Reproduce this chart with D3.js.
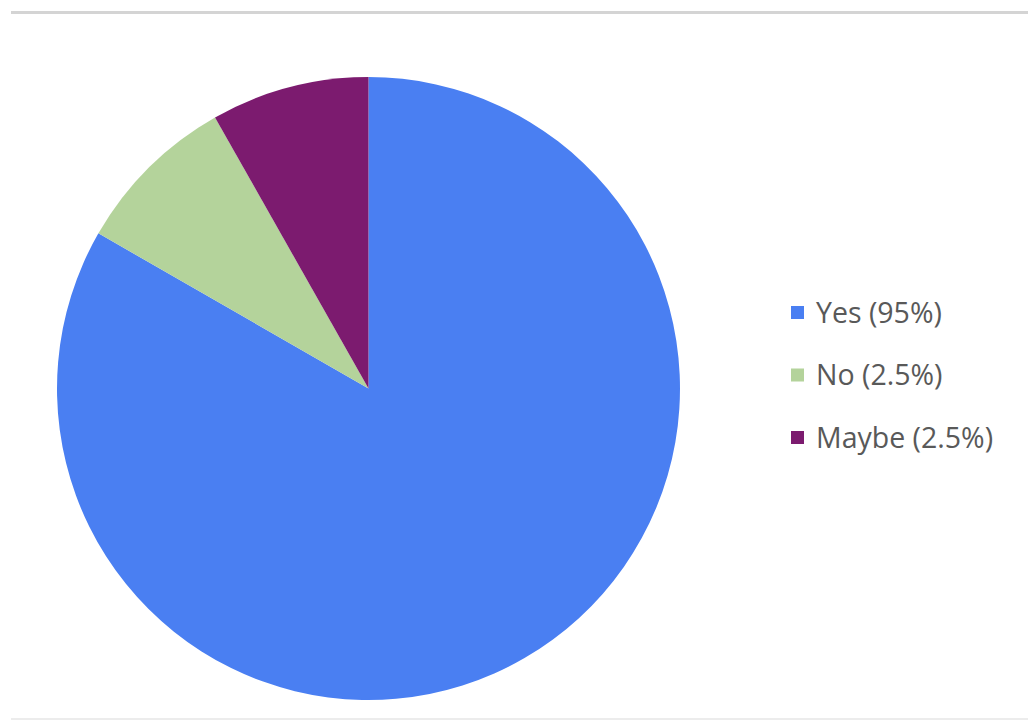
<!DOCTYPE html>
<html><head><meta charset="utf-8">
<script src="https://cdn.jsdelivr.net/npm/d3@7"></script>
<style>body{margin:0;background:#fff;}svg{display:block;}</style>
</head><body>
<svg id="c" width="1028" height="721"></svg>
<script>
const categories = ["Yes", "No", "Maybe"];
const values = [83.3, 8.5, 8.2];
const legendLabels = ["Yes (95%)", "No (2.5%)", "Maybe (2.5%)"];
const colors = ["#4a7ff2", "#b4d39b", "#7c1b6f"];

const svg = d3.select("#c");
// frame lines
svg.append("rect").attr("x", 11).attr("y", 11).attr("width", 1017).attr("height", 3).attr("fill", "#d4d4d4");
svg.append("rect").attr("x", 11).attr("y", 718).attr("width", 1017).attr("height", 2).attr("fill", "#ececec");

const cx = 368.5, cy = 388.5, r = 311.5;
const pie = d3.pie().sort(null).value(d => d.v);
const arc = d3.arc().innerRadius(0).outerRadius(r);
const data = categories.map((c, i) => ({c, v: values[i], col: colors[i]}));
const g = svg.append("g").attr("transform", `translate(${cx},${cy})`);
g.selectAll("path").data(pie(data)).join("path")
  .attr("d", arc).attr("fill", d => d.data.col);

const ly = d3.scalePoint().domain(categories).range([313, 438]);
const lg = svg.append("g");
categories.forEach((c, i) => {
  lg.append("rect").attr("x", 791).attr("y", ly(c) - 7).attr("width", 13).attr("height", 13).attr("fill", colors[i]);
  lg.append("text").attr("x", 816).attr("y", ly(c)).attr("dy", "0.35em")
    .attr("font-family", "Open Sans, sans-serif").attr("font-size", 28.5)
    .attr("fill", "#595959").text(legendLabels[i]);
});
</script>
</body></html>
